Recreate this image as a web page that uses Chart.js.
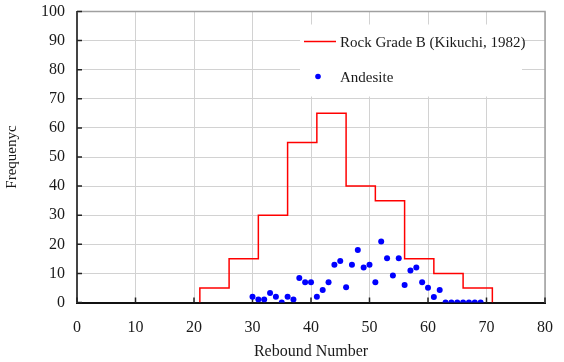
<!DOCTYPE html>
<html>
<head>
<meta charset="utf-8">
<script src="https://cdn.jsdelivr.net/npm/chart.js@4.4.1/dist/chart.umd.min.js"></script>
<style>
  html, body { margin: 0; padding: 0; background: #fff; }
</style>
</head>
<body>
<canvas id="freqChart" width="564" height="362"></canvas>
<script>
//Data: Rock Grade B histogram (Kikuchi, 1982)
const binStart = [21, 26, 31, 36, 41, 46, 51, 56, 61, 66];
const binEnd = 71;
const binFreq = [5, 15, 30, 55, 65, 40, 35, 15, 10, 5];

//Data: Andesite readings
const reboundNo = [30, 31, 32, 33, 34, 35, 36, 37, 38, 39,
                   40, 41, 42, 43, 44, 45, 46, 47, 48, 49,
                   50, 51, 52, 53, 54, 55, 56, 57, 58, 59,
                   60, 61, 62, 63, 64, 65, 66, 67, 68, 69];
const andesiteFreq = [2, 1, 1, 3.3, 2, 0, 2, 1, 8.4, 7,
                      7, 2, 4.3, 7, 13, 14.3, 5.2, 13, 18, 12,
                      13, 7, 21, 15.2, 9.3, 15.2, 6, 11, 12, 7,
                      5.1, 1.9, 4.3, 0, 0, 0, 0, 0, 0, 0];

//Tick labels
const xTicks = [0, 10, 20, 30, 40, 50, 60, 70, 80];
const yTicks = [0, 10, 20, 30, 40, 50, 60, 70, 80, 90, 100];

const seriesNames = ['Rock Grade B (Kikuchi, 1982)', 'Andesite'];

const serif = "'Liberation Serif', 'DejaVu Serif', serif";
const textColor = '#1a1a1a';

//Build the step outline from the bins
const histPoints = [{x: binStart[0], y: 0}];
binStart.forEach((b, i) => histPoints.push({x: b, y: binFreq[i]}));
histPoints.push({x: binEnd, y: 0});

const andesitePoints = reboundNo.map((r, i) => ({x: r, y: andesiteFreq[i]}));

//Frame on the top/right plus inward tick marks
const frameTicks = {
  id: 'frameTicks',
  beforeDatasetsDraw(chart) {
    const {ctx, chartArea: a, scales} = chart;
    ctx.save();
    ctx.strokeStyle = '#a0a0a0';
    ctx.lineWidth = 1.5;
    ctx.beginPath();
    ctx.moveTo(a.left, a.top);
    ctx.lineTo(a.right, a.top);
    ctx.lineTo(a.right, a.bottom);
    ctx.stroke();

    ctx.strokeStyle = '#222';
    ctx.lineWidth = 1.5;
    ctx.beginPath();
    xTicks.forEach(v => {
      const px = scales.x.getPixelForValue(v);
      ctx.moveTo(px, a.bottom);
      ctx.lineTo(px, a.bottom - 5);
    });
    yTicks.forEach(v => {
      const py = scales.y.getPixelForValue(v);
      ctx.moveTo(a.left, py);
      ctx.lineTo(a.left + 5, py);
    });
    ctx.stroke();
    ctx.restore();
  }
};

//Legend drawn inside the plot, top right
const innerLegend = {
  id: 'innerLegend',
  beforeDatasetsDraw(chart) {
    const {ctx, chartArea: a} = chart;
    const ds = chart.data.datasets;
    const left = a.right - 245;
    const top = a.top + 13;
    ctx.save();
    ctx.fillStyle = '#fff';
    ctx.fillRect(left, top, 222, 72);

    ctx.font = '15px ' + serif;
    ctx.fillStyle = textColor;
    ctx.textBaseline = 'middle';
    ctx.fillText(seriesNames[0], left + 40, top + 19);
    ctx.fillText(seriesNames[1], left + 40, top + 54);

    ctx.strokeStyle = ds[0].borderColor;
    ctx.lineWidth = 1.5;
    ctx.beginPath();
    ctx.moveTo(left + 4, top + 17);
    ctx.lineTo(left + 36, top + 17);
    ctx.stroke();

    ctx.fillStyle = ds[1].backgroundColor;
    ctx.beginPath();
    ctx.arc(left + 18, top + 52, 2.8, 0, Math.PI * 2);
    ctx.fill();
    ctx.restore();
  }
};

const freqChart = new Chart(document.getElementById('freqChart'), {
  type: 'scatter',
  data: {
    datasets: [
      {
        label: seriesNames[0],
        type: 'line',
        data: histPoints,
        stepped: 'before',
        borderColor: '#ff0000',
        backgroundColor: '#ff0000',
        borderWidth: 1.5,
        pointRadius: 0,
        fill: false
      },
      {
        label: seriesNames[1],
        data: andesitePoints,
        backgroundColor: '#0000ff',
        borderColor: '#0000ff',
        pointRadius: 3,
        borderWidth: 0
      }
    ]
  },
  options: {
    responsive: false,
    animation: false,
    layout: { padding: { top: 11.5, right: 19, left: 0, bottom: 0 } },
    plugins: {
      legend: { display: false },
      tooltip: { enabled: false }
    },
    scales: {
      x: {
        type: 'linear',
        min: 0,
        max: 80,
        afterBuildTicks: scale => { scale.ticks = xTicks.map(v => ({value: v})); },
        afterFit: scale => {
          scale.height = 59.5;
          scale.paddingLeft = 0;
          scale.paddingRight = 0;
        },
        grid: { color: '#d2d2d2', lineWidth: 1, drawTicks: false },
        border: { color: '#111', width: 2 },
        ticks: { color: textColor, padding: 16, font: { family: serif, size: 16 } },
        title: {
          display: true,
          text: 'Rebound Number',
          color: textColor,
          padding: { top: 1, bottom: 1 },
          font: { family: serif, size: 16 }
        }
      },
      y: {
        min: 0,
        max: 100,
        afterBuildTicks: scale => { scale.ticks = yTicks.map(v => ({value: v})); },
        afterFit: scale => {
          scale.width = 77;
          scale.paddingTop = 0;
          scale.paddingBottom = 0;
        },
        grid: { color: '#d2d2d2', lineWidth: 1, drawTicks: false },
        border: { color: '#444', width: 2 },
        ticks: { color: textColor, padding: 12, font: { family: serif, size: 16 } },
        title: {
          display: true,
          text: 'Frequenyc',
          color: textColor,
          padding: { top: 3, bottom: 2 },
          font: { family: serif, size: 15 }
        }
      }
    }
  },
  plugins: [frameTicks, innerLegend]
});
</script>
</body>
</html>
